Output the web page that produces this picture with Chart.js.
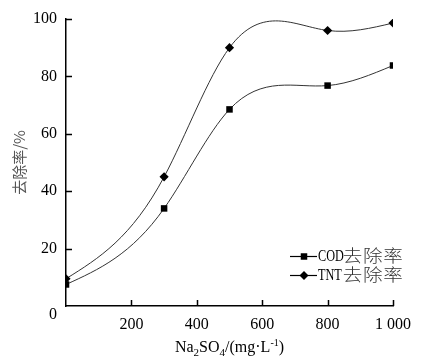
<!DOCTYPE html>
<html>
<head>
<meta charset="utf-8">
<script src="https://cdn.jsdelivr.net/npm/chart.js@4.4.1/dist/chart.umd.min.js"></script>
<style>
  html, body { margin: 0; padding: 0; background: #fff; }
  #wrap { width: 423px; height: 364px; }
</style>
</head>
<body>
<div id="wrap"><canvas id="chart"></canvas></div>
<script>
const dosage = [0, 300, 500, 800, 1000];
const codRemoval = [7.5, 34, 68.5, 76.8, 83.8];
const tntRemoval = [9.5, 45, 90, 96, 98.6];
const xTicks = [0, 200, 400, 600, 800, 1000];
const yTicks = [0, 20, 40, 60, 80, 100];
const seriesNames = ['COD去除率', 'TNT去除率'];

const serif = '"Liberation Serif", "Times New Roman", serif';
const cjk = '"Noto Sans CJK SC", serif';

function toPoints(values) {
    return dosage.map((d, i) => ({ x: d, y: values[i] }));
}

// replace chart.js bezier control points with a natural cubic spline through the same points
const naturalSpline = {
    id: 'naturalSpline',
    beforeDatasetDraw(chart, args) {
        const line = args.meta.dataset;
        const pts = args.meta.data;
        const n = pts.length;
        if (!line || n < 3) return;
        line.updateControlPoints(chart.chartArea, 'x');
        const x = pts.map(p => p.x), y = pts.map(p => p.y);
        const h = [];
        for (let i = 0; i < n - 1; i++) h.push(x[i + 1] - x[i]);
        // tridiagonal system for second derivatives (natural ends)
        const a = [], b = [], c = [], r = [];
        for (let i = 1; i < n - 1; i++) {
            a.push(h[i - 1]);
            b.push(2 * (h[i - 1] + h[i]));
            c.push(h[i]);
            r.push(6 * ((y[i + 1] - y[i]) / h[i] - (y[i] - y[i - 1]) / h[i - 1]));
        }
        const m = r.length;
        for (let i = 1; i < m; i++) {
            const w = a[i] / b[i - 1];
            b[i] -= w * c[i - 1];
            r[i] -= w * r[i - 1];
        }
        const inner = new Array(m);
        inner[m - 1] = r[m - 1] / b[m - 1];
        for (let i = m - 2; i >= 0; i--) inner[i] = (r[i] - c[i] * inner[i + 1]) / b[i];
        const M = [0, ...inner, 0];
        const d = [];
        for (let i = 0; i < n - 1; i++) {
            d.push((y[i + 1] - y[i]) / h[i] - h[i] * (2 * M[i] + M[i + 1]) / 6);
        }
        const k = n - 2;
        d.push((y[k + 1] - y[k]) / h[k] + h[k] * (M[k] + 2 * M[k + 1]) / 6);
        for (let i = 0; i < n; i++) {
            const hp = i > 0 ? h[i - 1] : 0;
            const hn = i < n - 1 ? h[i] : 0;
            pts[i].cp1x = x[i] - hp / 3;
            pts[i].cp1y = y[i] - hp / 3 * d[i];
            pts[i].cp2x = x[i] + hn / 3;
            pts[i].cp2y = y[i] + hn / 3 * d[i];
        }
        line._path = undefined;
    }
};

// inward ticks, origin label, x title with sub/superscripts, legend
const decor = {
    id: 'decor',
    afterDraw(chart) {
        const ctx = chart.ctx;
        const xs = chart.scales.x, ys = chart.scales.y;
        const area = chart.chartArea;
        ctx.save();
        ctx.strokeStyle = '#000';
        ctx.lineWidth = 1.5;
        ctx.beginPath();
        xTicks.slice(1).forEach(v => {
            const px = Math.round(xs.getPixelForValue(v)) + 0.5;
            ctx.moveTo(px, area.bottom);
            ctx.lineTo(px, area.bottom - 6);
        });
        yTicks.slice(1).forEach(v => {
            const py = Math.round(ys.getPixelForValue(v)) + 0.5;
            ctx.moveTo(area.left, py);
            ctx.lineTo(area.left + 6, py);
        });
        ctx.stroke();

        ctx.fillStyle = '#000';
        ctx.font = '16px ' + serif;
        ctx.textAlign = 'center';
        ctx.textBaseline = 'middle';
        ctx.fillText('0', area.left - 13, area.bottom + 9);

        // x title: Na2SO4/(mg·L-1)
        const parts = [
            ['Na', 0, 16], ['2', 4, 11], ['SO', 0, 16], ['4', 4, 11],
            ['/(mg·L', 0, 16], ['-1', -6, 10], [')', 0, 16]
        ];
        let total = 0;
        parts.forEach(p => { ctx.font = p[2] + 'px ' + serif; total += ctx.measureText(p[0]).width; });
        let cx = (area.left + area.right) / 2 - total / 2;
        const base = 352;
        ctx.textAlign = 'left';
        ctx.textBaseline = 'alphabetic';
        parts.forEach(p => {
            ctx.font = p[2] + 'px ' + serif;
            ctx.fillText(p[0], cx, base + p[1]);
            cx += ctx.measureText(p[0]).width;
        });

        // legend
        const styles = ['rect', 'rectRot'];
        const rowsY = [256, 275];
        seriesNames.forEach((name, i) => {
            const y = rowsY[i];
            ctx.strokeStyle = '#000';
            ctx.lineWidth = 1.2;
            ctx.beginPath();
            ctx.moveTo(290, y + 0.5);
            ctx.lineTo(317, y + 0.5);
            ctx.stroke();
            ctx.fillStyle = '#000';
            Chart.helpers.drawPoint(ctx, { pointStyle: styles[i], radius: i ? 4.5 : 4.6, borderWidth: 0 }, 304, y + 0.5);
            const latin = name.slice(0, 3);
            const han = name.slice(3);
            ctx.textBaseline = 'middle';
            ctx.font = '17px ' + serif;
            ctx.save();
            ctx.translate(318, y + 1);
            ctx.scale(0.72, 1);
            ctx.fillText(latin, 0, 0);
            ctx.restore();
            ctx.font = '300 17px ' + cjk;
            ctx.fillStyle = '#333';
            ctx.textAlign = 'center';
            Array.from(han).forEach((ch, j) => {
                ctx.save();
                ctx.translate(352.5 + j * 20.3, y);
                ctx.scale(1.15, 1);
                ctx.fillText(ch, 0, 0);
                ctx.restore();
            });
            ctx.textAlign = 'left';
        });
        ctx.restore();
    }
};

new Chart(document.getElementById('chart'), {
    type: 'line',
    data: {
        datasets: [
            {
                label: seriesNames[0],
                data: toPoints(codRemoval),
                borderColor: '#333',
                borderWidth: 1,
                tension: 0.4,
                pointStyle: 'rect',
                pointRadius: 4.6,
                pointBackgroundColor: '#000',
                pointBorderWidth: 0
            },
            {
                label: seriesNames[1],
                data: toPoints(tntRemoval),
                borderColor: '#333',
                borderWidth: 1,
                tension: 0.4,
                pointStyle: 'rectRot',
                pointRadius: 4.6,
                pointBackgroundColor: '#000',
                pointBorderWidth: 0
            }
        ]
    },
    options: {
        responsive: true,
        maintainAspectRatio: false,
        animation: false,
        layout: { padding: { top: 19, right: 30, left: 0, bottom: 0 } },
        plugins: { legend: { display: false }, tooltip: { enabled: false } },
        scales: {
            x: {
                type: 'linear',
                min: 0,
                max: 1000,
                afterBuildTicks: s => { s.ticks = xTicks.map(v => ({ value: v })); },
                afterFit: s => { s.height = 58; },
                grid: { display: false, drawTicks: false },
                border: { display: true, color: '#000', width: 1.5 },
                ticks: {
                    padding: 9,
                    color: '#000',
                    font: { family: serif, size: 16 },
                    maxRotation: 0,
                    callback: v => v === 0 ? '' : (v === 1000 ? '1 000' : String(v))
                }
            },
            y: {
                min: 0,
                max: 100,
                afterBuildTicks: s => { s.ticks = yTicks.map(v => ({ value: v })); },
                afterFit: s => { s.width = 66; },
                grid: { display: false, drawTicks: false },
                border: { display: true, color: '#000', width: 1.5 },
                ticks: {
                    padding: 9,
                    color: '#000',
                    font: { family: serif, size: 16 },
                    callback: v => v === 0 ? '' : String(v)
                },
                title: {
                    display: true,
                    text: '去除率/%',
                    color: '#555',
                    font: { family: cjk, size: 15 },
                    padding: { top: 10, bottom: 0 }
                }
            }
        }
    },
    plugins: [naturalSpline, decor]
});
</script>
</body>
</html>
